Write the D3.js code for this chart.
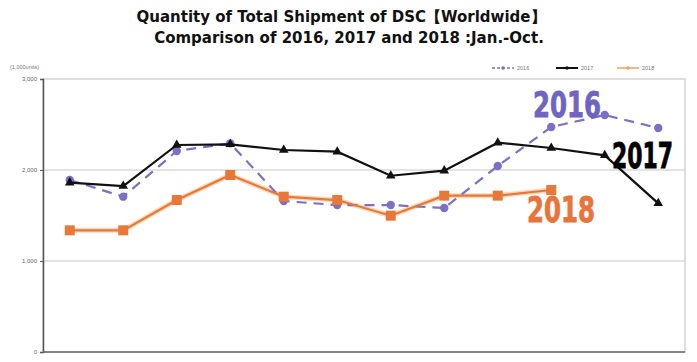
<!DOCTYPE html>
<html><head><meta charset="utf-8">
<script src="https://cdn.jsdelivr.net/npm/d3@7"></script>
<style>body{margin:0;background:#fff}svg{display:block}</style>
</head><body>
<svg id="c" width="697" height="362"></svg>
<script>
const months = ["Jan","Feb","Mar","Apr","May","Jun","Jul","Aug","Sep","Oct","Nov","Dec"];
const s2016 = [1890,1707,2209,2293,1659,1615,1615,1582,2044,2473,2604,2462];
const s2017 = [1861,1824,2275,2282,2220,2201,1937,1993,2300,2242,2161,1634];
const s2018 = [1337,1337,1670,1945,1707,1670,1498,1718,1718,1780];
const yTicks = [0,1000,2000,3000];
const titleLines = ["Quantity of Total Shipment of DSC【Worldwide】","Comparison of 2016, 2017 and 2018 :Jan.-Oct."];

const svg = d3.select("#c");
const L=43,R=685,T=79,B=352;
const x = d3.scalePoint().domain(months).range([L,R]).padding(0.5);
const y = d3.scaleLinear().domain([0,3000]).range([B,T]);

// title
svg.selectAll("text.title").data(titleLines).join("text")
  .attr("x",(d,i)=>i?349:341).attr("y",(d,i)=>22+i*21)
  .attr("text-anchor","middle").attr("font-family","DejaVu Sans, sans-serif")
  .attr("font-weight","bold").attr("font-size",15).attr("fill","#111").text(d=>d);

// plot box & grid
svg.append("rect").attr("x",L).attr("y",T).attr("width",R-L).attr("height",B-T)
  .attr("fill","none").attr("stroke","#c8c8c8").attr("stroke-width",1.2);
svg.selectAll("line.grid").data(yTicks.filter(d=>d>0&&d<3000)).join("line")
  .attr("x1",L).attr("x2",R).attr("y1",d=>y(d)).attr("y2",d=>y(d))
  .attr("stroke","#c8c8c8").attr("stroke-width",1);

const ax = svg.append("g").attr("transform",`translate(${L},0)`)
  .call(d3.axisLeft(y).tickValues(yTicks).tickSize(3).tickFormat(d3.format(",")));
ax.select(".domain").attr("stroke","#555").attr("stroke-width",1.5);
ax.selectAll(".tick line").attr("stroke","#555");
ax.selectAll(".tick text").attr("font-size",6).attr("fill","#666").attr("font-family","Liberation Sans, sans-serif");
svg.append("line").attr("x1",L).attr("x2",R).attr("y1",B).attr("y2",B).attr("stroke","#666").attr("stroke-width",1.5);

svg.append("text").attr("x",10).attr("y",69).attr("font-size",5.5).attr("fill","#777")
  .attr("font-family","Liberation Sans, sans-serif").text("(1,000units)");

const line = d3.line().x((d,i)=>x(months[i])).y(d=>y(d));

// 2018 glow
svg.append("path").datum(s2018).attr("d",line).attr("fill","none")
  .attr("stroke","#fbd9b8").attr("stroke-width",5).attr("stroke-linejoin","round");
// 2016
svg.append("path").datum(s2016).attr("d",line).attr("fill","none")
  .attr("stroke","#7b70c4").attr("stroke-width",2.2).attr("stroke-dasharray","10,7");
svg.selectAll("circle.p16").data(s2016).join("circle")
  .attr("cx",(d,i)=>x(months[i])).attr("cy",d=>y(d)).attr("r",4.2).attr("fill","#7b70c4");
// 2017
svg.append("path").datum(s2017).attr("d",line).attr("fill","none")
  .attr("stroke","#111").attr("stroke-width",2.2);
const tri = d3.symbol().type(d3.symbolTriangle).size(40);
svg.selectAll("path.p17").data(s2017).join("path")
  .attr("transform",(d,i)=>`translate(${x(months[i])},${y(d)})`).attr("d",tri).attr("fill","#111");
// 2018
svg.append("path").datum(s2018).attr("d",line).attr("fill","none")
  .attr("stroke","#e8783a").attr("stroke-width",2.2);
svg.selectAll("rect.p18").data(s2018).join("rect")
  .attr("x",(d,i)=>x(months[i])-5).attr("y",d=>y(d)-5).attr("width",10).attr("height",10).attr("fill","#e8783a");

// legend
const leg = [{k:"2016",c:"#7b70c4",x:492,dash:"3,2"},{k:"2017",c:"#111",x:556},{k:"2018",c:"#f0a060",x:617}];
leg.forEach(l=>{
  svg.append("line").attr("x1",l.x).attr("x2",l.x+22).attr("y1",68).attr("y2",68)
    .attr("stroke",l.c).attr("stroke-width",l.k==="2017"?2:1.5).attr("stroke-dasharray",l.dash||null);
  svg.append("circle").attr("cx",l.x+11).attr("cy",68).attr("r",1.8).attr("fill",l.c);
  svg.append("text").attr("x",l.x+25).attr("y",70).attr("font-size",5.5).attr("fill","#777")
    .attr("font-family","Liberation Sans, sans-serif").text(l.k);
});

// big annotations (anchored at their right edge)
const ann=[{t:"2016",c:"#6f65c0",x:601,y:117,w:68},{t:"2017",c:"#000",x:673,y:168,w:61},{t:"2018",c:"#e8743a",x:595,y:222,w:68}];
ann.forEach(a=>svg.append("text").attr("x",a.x).attr("y",a.y).attr("fill",a.c)
  .attr("text-anchor","end")
  .attr("font-family","Liberation Sans Narrow, DejaVu Sans Condensed, sans-serif").attr("font-weight","bold")
  .attr("stroke",a.c).attr("stroke-width",0.8)
  .attr("font-size",36).attr("textLength",a.w).attr("lengthAdjust","spacingAndGlyphs").text(a.t));
</script>
</body></html>
